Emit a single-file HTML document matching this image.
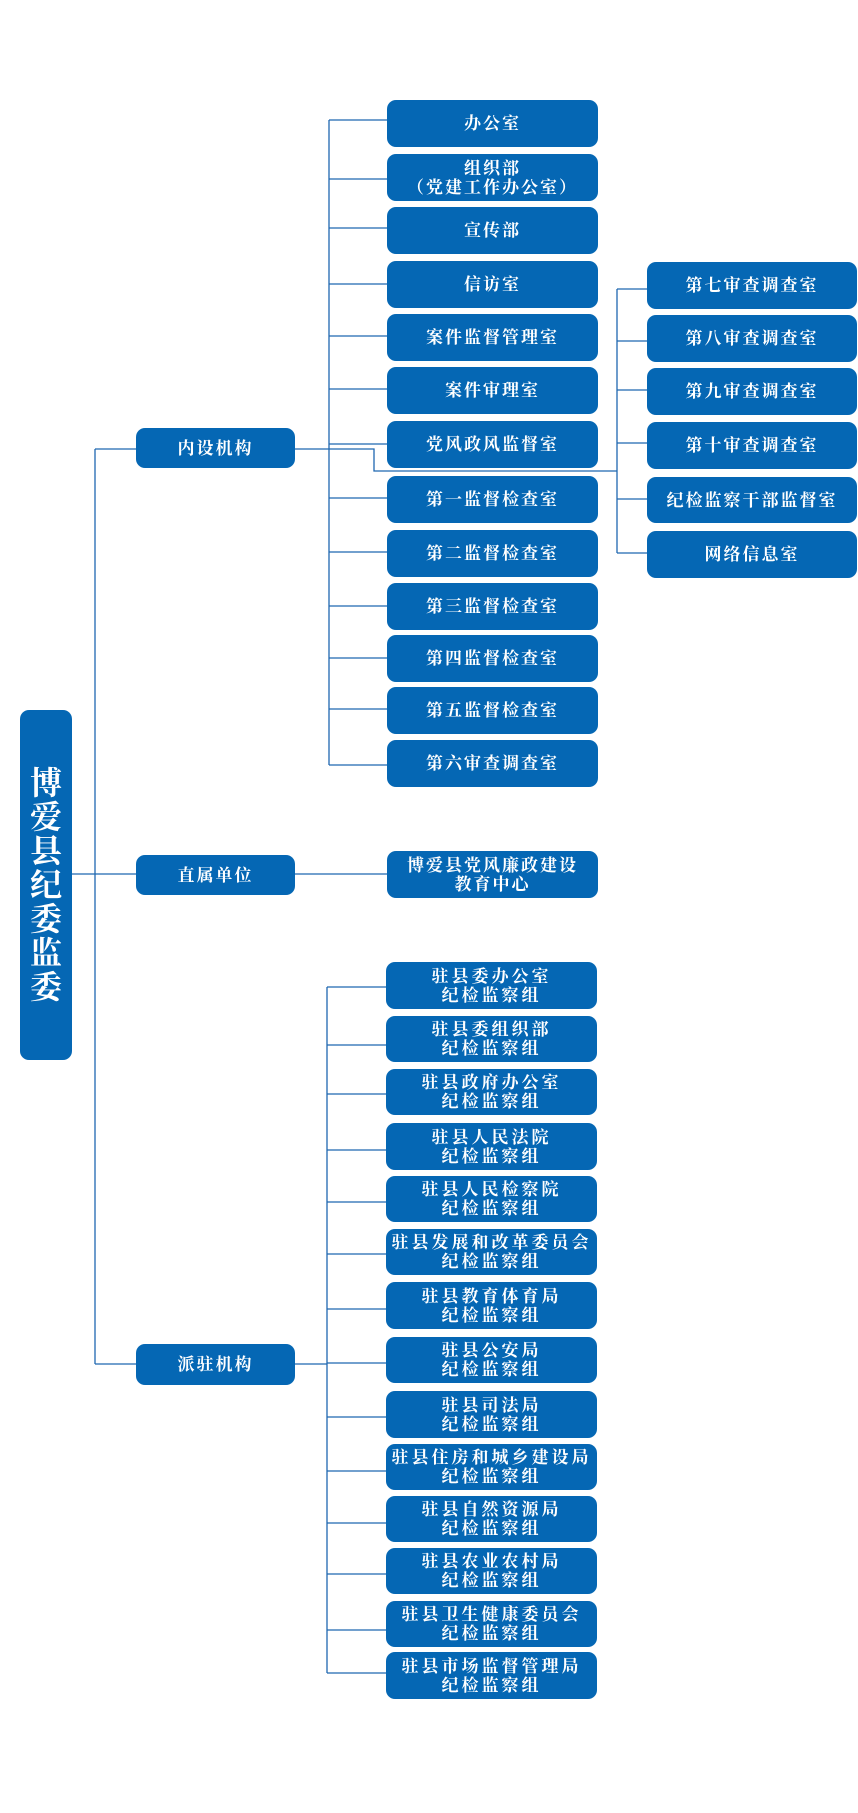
<!DOCTYPE html>
<html><head><meta charset="utf-8"><style>
body{margin:0;background:#fff;}
#c{position:relative;width:858px;height:1813px;overflow:hidden;}
.b{position:absolute;background:#0567b4;border-radius:9px;color:#fff;display:flex;align-items:center;justify-content:center;text-align:center;font-family:"Liberation Serif","Noto Serif CJK SC",serif;font-weight:bold;font-size:17px;line-height:19px;letter-spacing:2px;white-space:nowrap;}
.d{letter-spacing:3px;}
svg{position:absolute;left:0;top:0;}
</style></head><body><div id="c">
<svg width="858" height="1813" fill="none" stroke="#1f67b0" stroke-width="1.3">
<path d="M95 449V1364M95 449H136M72 874H136M95 1364H136"/>
<path d="M329 120V765M295 449H374V471H617"/>
<path d="M329 120H387M329 179H387M329 228H387M329 284H387M329 336H387M329 389H387M329 444H387M329 498H387M329 552H387M329 606H387M329 658H387M329 709H387M329 765H387"/>
<path d="M617 289V553M617 289H647M617 341H647M617 390H647M617 443H647M617 499H647M617 553H647"/>
<path d="M295 874H387"/>
<path d="M327 987V1673M295 1364H327"/>
<path d="M327 987H386M327 1045H386M327 1094H386M327 1150H386M327 1202H386M327 1254H386M327 1309H386M327 1363H386M327 1417H386M327 1471H386M327 1523H386M327 1574H386M327 1630H386M327 1673H386"/>
</svg>
<div class="b" style="left:20px;top:710px;width:52px;height:350px;font-size:32px;line-height:34px;white-space:normal;letter-spacing:0;flex-direction:column">博<br>爱<br>县<br>纪<br>委<br>监<br>委</div>
<div class="b" style="left:136px;top:428px;width:159px;height:40px">内设机构</div>
<div class="b" style="left:136px;top:855px;width:159px;height:40px">直属单位</div>
<div class="b" style="left:136px;top:1344px;width:159px;height:41px">派驻机构</div>

<div class="b" style="left:387px;top:100px;width:211px;height:47px">办公室</div>
<div class="b" style="left:387px;top:154px;width:211px;height:47px">组织部<br>（党建工作办公室）</div>
<div class="b" style="left:387px;top:207px;width:211px;height:47px">宣传部</div>
<div class="b" style="left:387px;top:261px;width:211px;height:47px">信访室</div>
<div class="b" style="left:387px;top:314px;width:211px;height:47px">案件监督管理室</div>
<div class="b" style="left:387px;top:367px;width:211px;height:47px">案件审理室</div>
<div class="b" style="left:387px;top:421px;width:211px;height:47px">党风政风监督室</div>
<div class="b" style="left:387px;top:476px;width:211px;height:47px">第一监督检查室</div>
<div class="b" style="left:387px;top:530px;width:211px;height:47px">第二监督检查室</div>
<div class="b" style="left:387px;top:583px;width:211px;height:47px">第三监督检查室</div>
<div class="b" style="left:387px;top:635px;width:211px;height:47px">第四监督检查室</div>
<div class="b" style="left:387px;top:687px;width:211px;height:47px">第五监督检查室</div>
<div class="b" style="left:387px;top:740px;width:211px;height:47px">第六审查调查室</div>

<div class="b" style="left:647px;top:262px;width:210px;height:47px">第七审查调查室</div>
<div class="b" style="left:647px;top:315px;width:210px;height:47px">第八审查调查室</div>
<div class="b" style="left:647px;top:368px;width:210px;height:47px">第九审查调查室</div>
<div class="b" style="left:647px;top:422px;width:210px;height:47px">第十审查调查室</div>
<div class="b" style="left:647px;top:477px;width:210px;height:46px">纪检监察干部监督室</div>
<div class="b" style="left:647px;top:531px;width:210px;height:47px">网络信息室</div>

<div class="b" style="left:387px;top:851px;width:211px;height:47px">博爱县党风廉政建设<br>教育中心</div>

<div class="b d" style="left:386px;top:962px;width:211px;height:47px">驻县委办公室<br>纪检监察组</div>
<div class="b d" style="left:386px;top:1016px;width:211px;height:46px">驻县委组织部<br>纪检监察组</div>
<div class="b d" style="left:386px;top:1069px;width:211px;height:46px">驻县政府办公室<br>纪检监察组</div>
<div class="b d" style="left:386px;top:1123px;width:211px;height:47px">驻县人民法院<br>纪检监察组</div>
<div class="b d" style="left:386px;top:1176px;width:211px;height:46px">驻县人民检察院<br>纪检监察组</div>
<div class="b d" style="left:386px;top:1229px;width:211px;height:46px">驻县发展和改革委员会<br>纪检监察组</div>
<div class="b d" style="left:386px;top:1282px;width:211px;height:47px">驻县教育体育局<br>纪检监察组</div>
<div class="b d" style="left:386px;top:1337px;width:211px;height:46px">驻县公安局<br>纪检监察组</div>
<div class="b d" style="left:386px;top:1391px;width:211px;height:47px">驻县司法局<br>纪检监察组</div>
<div class="b d" style="left:386px;top:1444px;width:211px;height:46px">驻县住房和城乡建设局<br>纪检监察组</div>
<div class="b d" style="left:386px;top:1496px;width:211px;height:46px">驻县自然资源局<br>纪检监察组</div>
<div class="b d" style="left:386px;top:1548px;width:211px;height:46px">驻县农业农村局<br>纪检监察组</div>
<div class="b d" style="left:386px;top:1601px;width:211px;height:46px">驻县卫生健康委员会<br>纪检监察组</div>
<div class="b d" style="left:386px;top:1652px;width:211px;height:47px">驻县市场监督管理局<br>纪检监察组</div>
</div></body></html>
